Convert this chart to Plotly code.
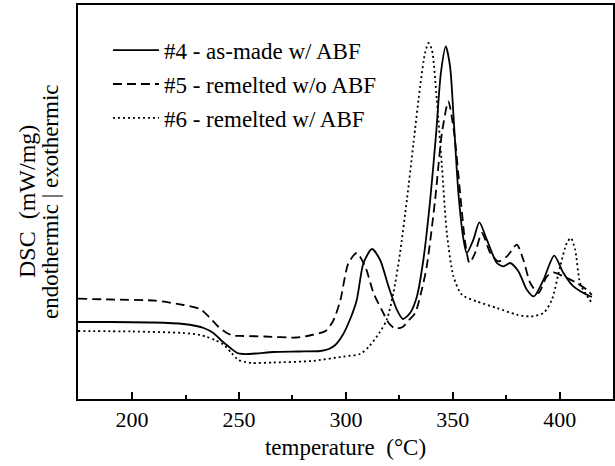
import plotly.graph_objects as go

# ---- data ----
t4 = [174.7, 190, 210, 224, 230, 233.5, 238, 242, 246, 249.2, 252, 258, 266, 278, 288, 292, 295, 298.5,
      302, 305.1, 308.2, 312.2, 316, 319.9, 323.8, 326.6, 330, 333.2, 336.2, 339.4, 342.2, 344.4, 346.7,
      348.7, 350.6, 352.6, 355, 356.5, 359.6, 362.4, 365.9, 370.6, 373.7, 376.8, 380.7, 384.6, 387.9,
      392.4, 397.4, 401.7, 406.4, 411.1, 415]
dsc4 = [77, 77, 76.5, 75, 73, 71, 66, 58, 51, 46, 45, 45.5, 47, 47.5, 48, 50, 54, 64,
        80, 99.3, 136, 150, 139, 112.6, 89.3, 80, 86, 102.6, 139, 199, 266, 326, 352.6,
        332.6, 272.6, 206, 159.3, 146, 159.3, 176.6, 159.3, 136, 132.6, 136, 127.6, 109.3, 102.6,
        119.3, 143.3, 126, 112.6, 106, 102]

t5 = [174.7, 190, 211, 224, 231.8, 236, 240.5, 243.9, 247, 252, 262, 277, 284, 290.5, 294, 297.3,
      301.2, 305.1, 309, 312.9, 317.5, 320, 323, 326.5, 329.5, 332.4, 335, 337.8, 341.7, 344.9, 347.9,
      350.6, 353.4, 355.8, 357.8, 360.4, 363.6, 367.5, 371.3, 375.3, 379.9, 383, 386.2, 390, 394, 397,
      401.7, 408, 412.7, 415]
dsc5 = [100.3, 99.5, 98.3, 94, 90, 82, 72, 66.6, 63.5, 63, 62.5, 61.5, 64, 68, 78, 98,
        136, 146, 132.6, 106, 86, 76, 70.5, 72, 79, 86, 105, 132.6, 199, 266, 297.6,
        266, 206, 156, 136, 146, 166, 146, 137.6, 142.6, 154.3, 139, 116, 106, 122.6, 126.6,
        122.6, 116, 109.3, 104]

t6 = [174.7, 200, 224, 231.8, 235, 238.8, 243, 246.5, 249.7, 253, 256, 266, 284, 299, 306.6, 311,
      315.6, 319.1, 322.2, 325.3, 328.5, 331.6, 334.7, 337, 338.6, 340.2, 342.5, 344.9, 347.2, 350.3,
      354.2, 361.2, 370.6, 379.9, 386.2, 392.4, 396.3, 400.2, 403.3, 405.2, 407.2, 409.5, 411.9, 415]
dsc6 = [68, 67.5, 66, 64, 62, 59, 54, 46, 39, 37, 36, 36.5, 38, 42.5, 45, 53,
        66, 79.3, 106, 146, 199, 256, 312.6, 346, 356, 349.3, 299.3, 232.6, 166, 122.6,
        104.3, 97.6, 91, 84.3, 82.6, 86, 99.3, 132.6, 156, 161, 149.3, 116, 106, 96]

names = ["#4 - as-made w/ ABF", "#5 - remelted w/o ABF", "#6 - remelted w/ ABF"]
dashes = ["solid", "9px,5px", "2px,3px"]
ytitle_lines = ["DSC  (mW/mg)", "endothermic | exothermic"]

FONT = "'Liberation Serif', 'Times New Roman', 'DejaVu Serif', serif"

fig = go.Figure()
for i, (tx, ty) in enumerate([(t4, dsc4), (t5, dsc5), (t6, dsc6)]):
    fig.add_trace(go.Scatter(
        x=tx, y=ty, mode="lines", name=names[i], legendgroup=f"g{i}",
        line=dict(color="black", width=1.8, dash=dashes[i], shape="spline", smoothing=0.7),
    ))

# two-line rotated y-axis title (tight line spacing)
for text, shift, size in zip(ytitle_lines, [-51, -28], [24, 23]):
    fig.add_annotation(text=text, textangle=-90, xref="paper", yref="paper",
                       x=0, y=0.5, xanchor="center", yanchor="middle", xshift=shift,
                       showarrow=False, font=dict(size=size, family=FONT, color="black"))

fig.update_layout(
    width=615, height=466,
    margin=dict(l=78, r=2, t=5, b=67),
    paper_bgcolor="white", plot_bgcolor="white",
    font=dict(family=FONT, color="black", size=22),
    showlegend=True,
    legend=dict(x=0.056, y=0.94, xanchor="left", yanchor="top",
                bgcolor="rgba(0,0,0,0)", font=dict(size=23, family=FONT),
                tracegroupgap=1, itemwidth=46, traceorder="grouped"),
    xaxis=dict(range=[174.7, 424.9], tickmode="array", tickvals=[200, 250, 300, 350, 400],
               ticks="inside", ticklen=7, tickwidth=1.5, tickcolor="black",
               minor=dict(ticks="inside", ticklen=4, tickwidth=1.5, tickcolor="black",
                          tickvals=[225, 275, 325, 375]),
               showline=True, linecolor="black", linewidth=1.5, mirror=True,
               showgrid=False, zeroline=False, automargin=False,
               tickfont=dict(size=22, family=FONT),
               title=dict(text="temperature  (°C)", font=dict(size=23, family=FONT), standoff=8)),
    yaxis=dict(range=[0, 394], showticklabels=False, ticks="",
               showline=True, linecolor="black", linewidth=1.5, mirror=True,
               showgrid=False, zeroline=False, automargin=False),
)

fig.write_html("out.html", config={"displayModeBar": False},
               post_script="document.body.style.margin='0';")
